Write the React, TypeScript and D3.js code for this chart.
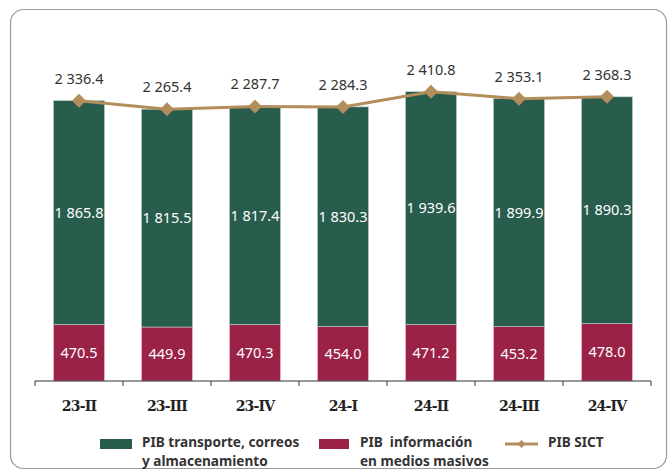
import React from 'react'
import * as d3 from 'd3'

// quarters and values (miles de millones de pesos)
const quarters = ['23-II', '23-III', '23-IV', '24-I', '24-II', '24-III', '24-IV']
const transporte = [1865.8, 1815.5, 1817.4, 1830.3, 1939.6, 1899.9, 1890.3]
const informacion = [470.5, 449.9, 470.3, 454.0, 471.2, 453.2, 478.0]
const sict = [2336.4, 2265.4, 2287.7, 2284.3, 2410.8, 2353.1, 2368.3]

const GREEN = '#285C4D'
const RED = '#9B2247'
const GOLD = '#B38E5D'

const W = 670
const H = 473
const baseY = 381

const fmt = (v: number) => {
  const [i, d] = v.toFixed(1).split('.')
  return i.replace(/\B(?=(\d{3})+(?!\d))/g, ' ') + '.' + d
}

const Diamond = ({ x, y, r }: { x: number; y: number; r: number }) => (
  <path d={`M${x},${y - r}L${x + r},${y}L${x},${y + r}L${x - r},${y}Z`} fill={GOLD} />
)

const App = () => {
  const x = d3.scaleBand().domain(quarters).range([35, 651]).paddingInner(0.42).paddingOuter(0.21)
  const y = d3.scaleLinear().domain([0, 2500]).range([baseY, baseY - 300])

  const line = d3
    .line<number>()
    .x((_, i) => x(quarters[i])! + x.bandwidth() / 2)
    .y((d) => y(d))

  const ticks = d3.range(quarters.length + 1).map((i) => 35 + i * x.step())
  const sans = '"Noto Sans", "Open Sans", sans-serif'

  return (
    <svg width={W} height={H} style={{ position: 'absolute', left: 0, top: 0 }}>
      <rect x={10.5} y={9.5} width={656} height={459} rx={13} fill="white" stroke="#9a9a9a" strokeWidth={1.2} />

      {quarters.map((q, i) => {
        const bx = x(q)!
        const bw = x.bandwidth()
        const cx = bx + bw / 2
        const yRed = y(informacion[i])
        const yTop = y(informacion[i] + transporte[i])
        return (
          <g key={q}>
            <rect x={bx} y={yRed} width={bw} height={baseY - yRed} fill={RED} stroke="#e9c9d2" strokeWidth={0.6} />
            <rect x={bx} y={yTop} width={bw} height={yRed - yTop} fill={GREEN} stroke="#bcd0ca" strokeWidth={0.6} />
            <text x={cx} y={(yTop + yRed) / 2 + 5} textAnchor="middle" fill="white" fontSize={14.5} fontFamily={sans}>
              {fmt(transporte[i])}
            </text>
            <text x={cx} y={(yRed + baseY) / 2 + 5} textAnchor="middle" fill="white" fontSize={14.5} fontFamily={sans}>
              {fmt(informacion[i])}
            </text>
          </g>
        )
      })}

      <path d={line(sict) ?? ''} fill="none" stroke={GOLD} strokeWidth={3} />
      {sict.map((v, i) => {
        const cx = x(quarters[i])! + x.bandwidth() / 2
        return (
          <g key={i}>
            <Diamond x={cx} y={y(v)} r={7} />
            <text x={cx} y={y(v) - 17} textAnchor="middle" fill="#333" fontSize={14.5} fontFamily={sans}>
              {fmt(v)}
            </text>
          </g>
        )
      })}

      {/* x axis */}
      <line x1={35} x2={651} y1={baseY} y2={baseY} stroke="#333" strokeWidth={1.2} />
      {ticks.map((t) => (
        <line key={t} x1={t} x2={t} y1={baseY} y2={baseY + 5} stroke="#333" strokeWidth={1} />
      ))}
      {quarters.map((q) => (
        <text
          key={q}
          x={x(q)! + x.bandwidth() / 2}
          y={411}
          textAnchor="middle"
          fill="#222"
          fontSize={14}
          fontWeight="bold"
          fontFamily='"DejaVu Serif", serif'
          letterSpacing={-0.8}
        >
          {q}
        </text>
      ))}

      {/* legend */}
      <g fontFamily={sans} fontSize={13.6} fontWeight="bold" fill="#333">
        <rect x={100} y={439} width={32} height={10} fill={GREEN} />
        <text x={142} y={447}>PIB transporte, correos</text>
        <text x={142} y={466}>y almacenamiento</text>
        <rect x={319} y={439} width={30} height={10} fill={RED} />
        <text x={360} y={447} xmlSpace="preserve">PIB  información</text>
        <text x={360} y={466}>en medios masivos</text>
        <line x1={505} x2={538} y1={444} y2={444} stroke={GOLD} strokeWidth={3} />
        <Diamond x={521.5} y={444} r={4} />
        <text x={548} y={447}>PIB SICT</text>
      </g>
    </svg>
  )
}

export default App
